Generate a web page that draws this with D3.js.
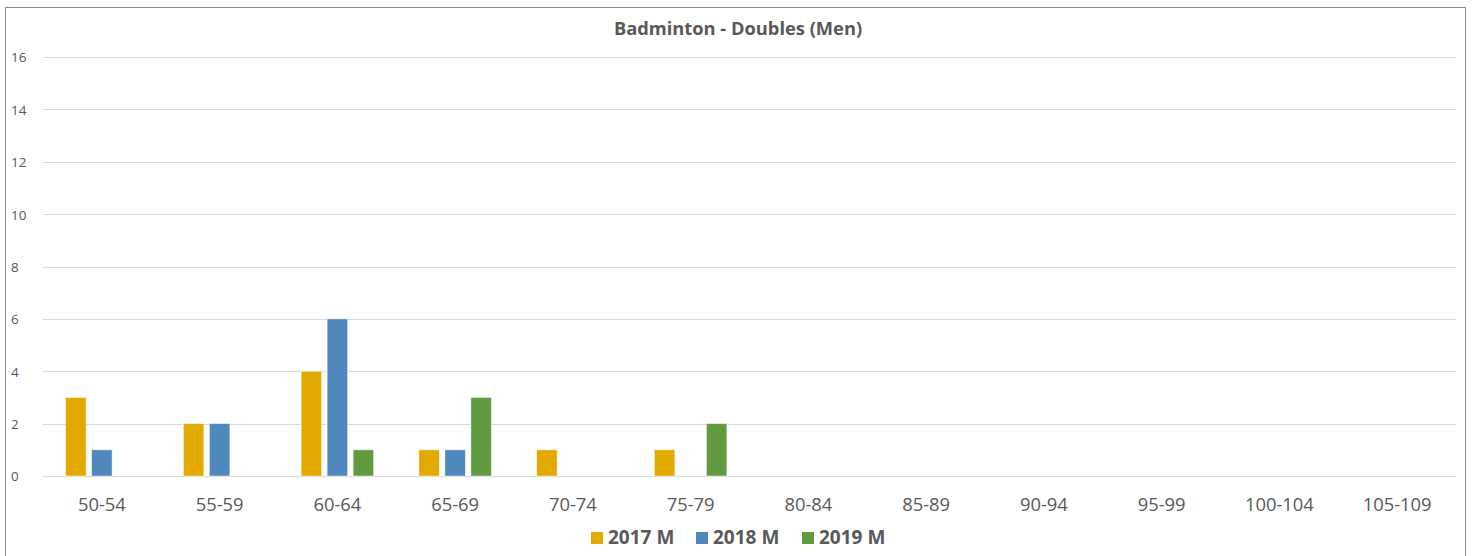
<!DOCTYPE html>
<html><head><meta charset="utf-8">
<script src="https://cdn.jsdelivr.net/npm/d3@7"></script>
<style>html,body{margin:0;padding:0;background:#fff;} svg{display:block;font-family:"Open Sans","Liberation Sans",sans-serif;}</style>
</head><body>
<svg id="c" width="1472" height="556"></svg>
<script>
const categories = ["50-54","55-59","60-64","65-69","70-74","75-79","80-84","85-89","90-94","95-99","100-104","105-109"];
const seriesNames = ["2017 M","2018 M","2019 M"];
const values2017 = [3,2,4,1,1,1,0,0,0,0,0,0];
const values2018 = [1,2,6,1,0,0,0,0,0,0,0,0];
const values2019 = [0,0,1,3,0,2,0,0,0,0,0,0];
const yTicks = [0,2,4,6,8,10,12,14,16];
const colors = ["#E2AA00","#4F88BD","#629B3F"];
const title = "Badminton - Doubles (Men)";

const series = [values2017, values2018, values2019];
const svg = d3.select("#c");
svg.append("rect").attr("x",5.5).attr("y",7.5).attr("width",1460).attr("height",560).attr("fill","#fff").attr("stroke","#8c8c8c").attr("stroke-width",1);

const m = {l:43, r:1456, t:57, b:476};
const x = d3.scaleBand().domain(categories).range([m.l,m.r]).paddingInner(0).paddingOuter(0);
const y = d3.scaleLinear().domain([0,16]).range([m.b,m.t]);

const g = svg.append("g");
g.selectAll("line.grid").data(yTicks).join("line")
  .attr("x1",m.l).attr("x2",m.r).attr("y1",d=>Math.round(y(d))+0.5).attr("y2",d=>Math.round(y(d))+0.5)
  .attr("stroke","#d9d9d9").attr("stroke-width",1);

const yAxis = d3.axisLeft(y).tickValues(yTicks).tickSize(0).tickPadding(0);
const ya = svg.append("g").attr("transform",`translate(11,0)`).call(yAxis);
ya.select(".domain").remove();
ya.selectAll("text").attr("text-anchor","start").attr("x",0).attr("dy","0.36em").attr("fill","#595959").attr("font-size",13.5).attr("font-family","Open Sans, sans-serif");

const bw = 20.5, gap = 5.5;
const groupW = 3*bw + 2*gap;
series.forEach((vals,si)=>{
  g.selectAll(null).data(vals.map((v,i)=>({v,c:categories[i]})).filter(d=>d.v>0)).join("rect")
    .attr("x",d=>x(d.c)+x.bandwidth()/2-groupW/2+si*(bw+gap))
    .attr("y",d=>y(d.v))
    .attr("width",bw)
    .attr("height",d=>y(0)-y(d.v))
    .attr("fill",colors[si])
    .attr("stroke","#ffffff").attr("stroke-opacity",0.6).attr("stroke-width",0.8);
});

const xAxis = d3.axisBottom(x).tickSize(0).tickPadding(0);
const xa = svg.append("g").attr("transform",`translate(0,${m.b})`).call(xAxis);
xa.select(".domain").remove();
xa.selectAll("text").attr("dy",0).attr("y",35).attr("fill","#595959").attr("font-size",18.4).attr("font-family","Open Sans, sans-serif");

svg.append("text").attr("x",738).attr("y",35).attr("text-anchor","middle")
  .attr("font-weight","bold").attr("font-size",18.3).attr("fill","#595959").text(title);

const legX = [591, 696, 802];
const leg = svg.append("g");
seriesNames.forEach((n,i)=>{
  leg.append("rect").attr("x",legX[i]).attr("y",532).attr("width",12).attr("height",12).attr("fill",colors[i]);
  leg.append("text").attr("x",legX[i]+17).attr("y",544).attr("font-weight","bold").attr("font-size",19).attr("fill","#595959").text(n);
});
</script>
</body></html>
